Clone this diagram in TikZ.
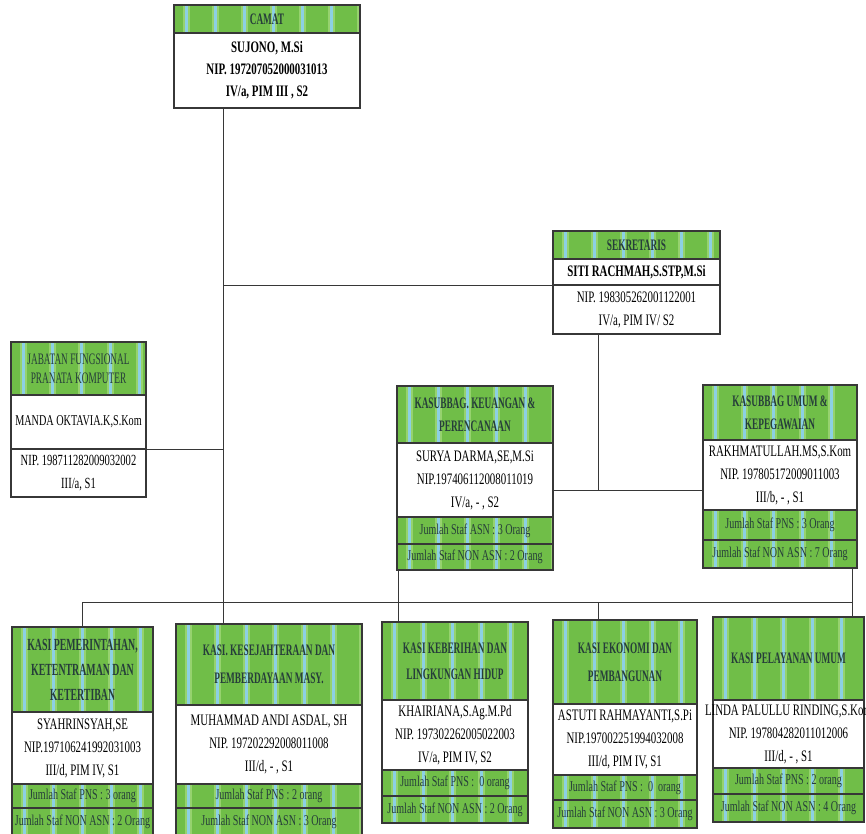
\documentclass[tikz,border=0pt]{standalone}
\usepackage{fontspec}
\setmainfont{Liberation Serif}
\newfontfamily\hfont[FakeStretch=0.58]{Liberation Serif}
\newfontfamily\bfont[FakeStretch=0.68]{Liberation Serif}
\newfontfamily\jfont[FakeStretch=0.67]{Liberation Serif}
\definecolor{hgreen}{RGB}{112,190,72}
\definecolor{stripefr}{RGB}{150,210,110}
\definecolor{stripeb}{RGB}{140,208,228}
\definecolor{htext}{RGB}{38,62,58}
\definecolor{linec}{RGB}{55,55,55}
\tikzset{
  stripes/.style={path picture={
    \foreach \k in {0,...,6}{
      \fill[stripefr] ([xshift=12pt+\k*29pt-3.5pt]path picture bounding box.south west) rectangle ++(7pt,150pt);
      \fill[stripeb] ([xshift=12pt+\k*29pt-1.5pt]path picture bounding box.south west) rectangle ++(3pt,150pt);
    }}},
  box/.style={draw=linec, line width=1.1pt, inner sep=0pt, outer sep=0pt, anchor=north west, align=center},
  hdr/.style={box, fill=hgreen, stripes, text=htext, font=\hfont\bfseries\fontsize{16}{23}\selectfont},
  hdrreg/.style={box, fill=hgreen, stripes, text=htext, font=\hfont\fontsize{16}{19}\selectfont},
  bod/.style={box, fill=white, text=black, font=\bfont\fontsize{16}{23}\selectfont},
  bodb/.style={bod, font=\bfont\bfseries\fontsize{16}{22}\selectfont},
  rowst/.style={box, fill=hgreen, stripes, text=htext, font=\jfont\fontsize{15}{16}\selectfont},
  conn/.style={draw=linec, line width=1pt},
}
\begin{document}
\begin{tikzpicture}[x=1pt,y=-1pt]
\fill[white] (0,0) rectangle (866,833);
\useasboundingbox (0,0) rectangle (866,833);
% junction coordinates
\coordinate (trunk) at (223,602);
\coordinate (busL) at (82,602);
\coordinate (busR) at (852,602);
\coordinate (sekv) at (598,490);
\coordinate (kv) at (398,602);
\coordinate (ev) at (598,602);
\coordinate (uv) at (852,602);
% CAMAT
\node[hdr, minimum width=186pt, minimum height=28pt] (camat-h) at (174,5) {CAMAT};
\node[bodb, minimum width=186pt, minimum height=75pt] (camat-b) at (174,33) {SUJONO, M.Si\\NIP. 197207052000031013\\IV/a, PIM III , S2};
% SEKRETARIS
\node[hdr, minimum width=167pt, minimum height=28pt] (sek-h) at (553,231) {SEKRETARIS};
\node[bodb, minimum width=167pt, minimum height=26pt] (sek-n) at (553,259) {SITI RACHMAH,S.STP,M.Si};
\node[bod, minimum width=167pt, minimum height=49pt] (sek-b) at (553,285) {NIP. 198305262001122001\\IV/a, PIM IV/ S2};
% JABATAN FUNGSIONAL
\node[hdrreg, minimum width=135pt, minimum height=53pt] (jab-h) at (11,342) {JABATAN FUNGSIONAL\\PRANATA KOMPUTER};
\node[bod, minimum width=135pt, minimum height=54pt, font=\bfont\fontsize{15}{22}\selectfont] (jab-m) at (11,395) {MANDA OKTAVIA.K,S.Kom};
\node[bod, minimum width=135pt, minimum height=48pt, font=\bfont\fontsize{15.5}{23}\selectfont] (jab-b) at (11,449) {NIP. 198711282009032002\\III/a, S1};
% KASUBBAG KEUANGAN
\node[hdr, minimum width=156pt, minimum height=57pt] (keu-h) at (397,386) {KASUBBAG. KEUANGAN \&\\PERENCANAAN};
\node[bod, minimum width=156pt, minimum height=74pt] (keu-b) at (397,443) {SURYA DARMA,SE,M.Si\\NIP.197406112008011019\\IV/a, - , S2};
\node[rowst, minimum width=156pt, minimum height=27pt] (keu-r1) at (397,517) {Jumlah Staf ASN : 3 Orang};
\node[rowst, minimum width=156pt, minimum height=26pt] (keu-r2) at (397,544) {Jumlah Staf NON ASN : 2 Orang};
% KASUBBAG UMUM
\node[hdr, minimum width=154pt, minimum height=55pt] (umum-h) at (703,385) {KASUBBAG UMUM \&\\KEPEGAWAIAN};
\node[bod, minimum width=154pt, minimum height=70pt] (umum-b) at (703,440) {RAKHMATULLAH.MS,S.Kom\\NIP. 197805172009011003\\III/b, - , S1};
\node[rowst, minimum width=154pt, minimum height=30pt] (umum-r1) at (703,510) {Jumlah Staf PNS : 3 Orang};
\node[rowst, minimum width=154pt, minimum height=28pt] (umum-r2) at (703,540) {Jumlah Staf NON ASN : 7 Orang};
% KASI PEMERINTAHAN
\node[hdr, minimum width=141pt, minimum height=85pt, font=\hfont\bfseries\fontsize{17}{25}\selectfont] (pem-h) at (12,627) {KASI PEMERINTAHAN,\\KETENTRAMAN DAN\\KETERTIBAN};
\node[bod, minimum width=141pt, minimum height=72pt] (pem-b) at (12,712) {SYAHRINSYAH,SE\\NIP.197106241992031003\\III/d, PIM IV, S1};
\node[rowst, minimum width=141pt, minimum height=24pt] (pem-r1) at (12,784) {Jumlah Staf PNS : 3 orang};
\node[rowst, minimum width=141pt, minimum height=27pt] (pem-r2) at (12,808) {Jumlah Staf NON ASN : 2 Orang};
% KASI KESEJAHTERAAN
\node[hdr, minimum width=186pt, minimum height=81pt, font=\hfont\bfseries\fontsize{16}{28}\selectfont] (kes-h) at (176,624) {KASI. KESEJAHTERAAN DAN\\PEMBERDAYAAN MASY.};
\node[bod, minimum width=186pt, minimum height=79pt] (kes-b) at (176,705) {MUHAMMAD ANDI ASDAL, SH\\NIP. 197202292008011008\\III/d, - , S1};
\node[rowst, minimum width=186pt, minimum height=24pt] (kes-r1) at (176,784) {Jumlah Staf PNS : 2 orang};
\node[rowst, minimum width=186pt, minimum height=27pt] (kes-r2) at (176,808) {Jumlah Staf NON ASN : 3 Orang};
% KASI KEBERIHAN
\node[hdr, minimum width=146pt, minimum height=78pt, font=\hfont\bfseries\fontsize{16}{26}\selectfont] (keb-h) at (382,622) {KASI KEBERIHAN DAN\\LINGKUNGAN HIDUP};
\node[bod, minimum width=146pt, minimum height=70pt] (keb-b) at (382,700) {KHAIRIANA,S.Ag.M.Pd\\NIP. 197302262005022003\\IV/a, PIM IV, S2};
\node[rowst, minimum width=146pt, minimum height=26pt] (keb-r1) at (382,770) {Jumlah Staf PNS :\ \ 0 orang};
\node[rowst, minimum width=146pt, minimum height=27pt] (keb-r2) at (382,796) {Jumlah Staf NON ASN : 2 Orang};
% KASI EKONOMI
\node[hdr, minimum width=144pt, minimum height=84pt, font=\hfont\bfseries\fontsize{16}{28}\selectfont] (eko-h) at (553,620) {KASI EKONOMI DAN\\PEMBANGUNAN};
\node[bod, minimum width=144pt, minimum height=71pt] (eko-b) at (553,704) {ASTUTI RAHMAYANTI,S.Pi\\NIP.197002251994032008\\III/d, PIM IV, S1};
\node[rowst, minimum width=144pt, minimum height=25pt] (eko-r1) at (553,775) {Jumlah Staf PNS :\ \ 0\ \ orang};
\node[rowst, minimum width=144pt, minimum height=28pt] (eko-r2) at (553,800) {Jumlah Staf NON ASN : 3 Orang};
% KASI PELAYANAN
\node[hdr, minimum width=151pt, minimum height=83pt] (pel-h) at (713,617) {KASI PELAYANAN UMUM};
\node[bod, minimum width=151pt, minimum height=68pt] (pel-b) at (713,700) {\makebox[0pt]{LINDA PALULLU RINDING,S.Kom}\\NIP. 197804282011012006\\III/d, - , S1};
\node[rowst, minimum width=151pt, minimum height=26pt] (pel-r1) at (713,768) {Jumlah Staf PNS : 2 orang};
\node[rowst, minimum width=151pt, minimum height=28pt] (pel-r2) at (713,794) {Jumlah Staf NON ASN : 4 Orang};
% connectors
\draw[conn] (camat-b.south -| trunk) -- (kes-h.north -| trunk);
\draw[conn] (sek-n.south west -| trunk) -- (sek-n.south west);
\draw[conn] (jab-m.south east) -- (jab-m.south east -| trunk);
\draw[conn] (sek-b.south -| sekv) -- (sekv);
\draw[conn] (keu-b.east |- sekv) -- (umum-b.west |- sekv);
\draw[conn] (busL) -- (busR);
\draw[conn] (busL) -- (pem-h.north -| busL);
\draw[conn] (keu-r2.south -| kv) -- (keb-h.north -| kv);
\draw[conn] (ev) -- (eko-h.north -| ev);
\draw[conn] (umum-r2.south -| uv) -- (pel-h.north -| uv);
\end{tikzpicture}
\end{document}
